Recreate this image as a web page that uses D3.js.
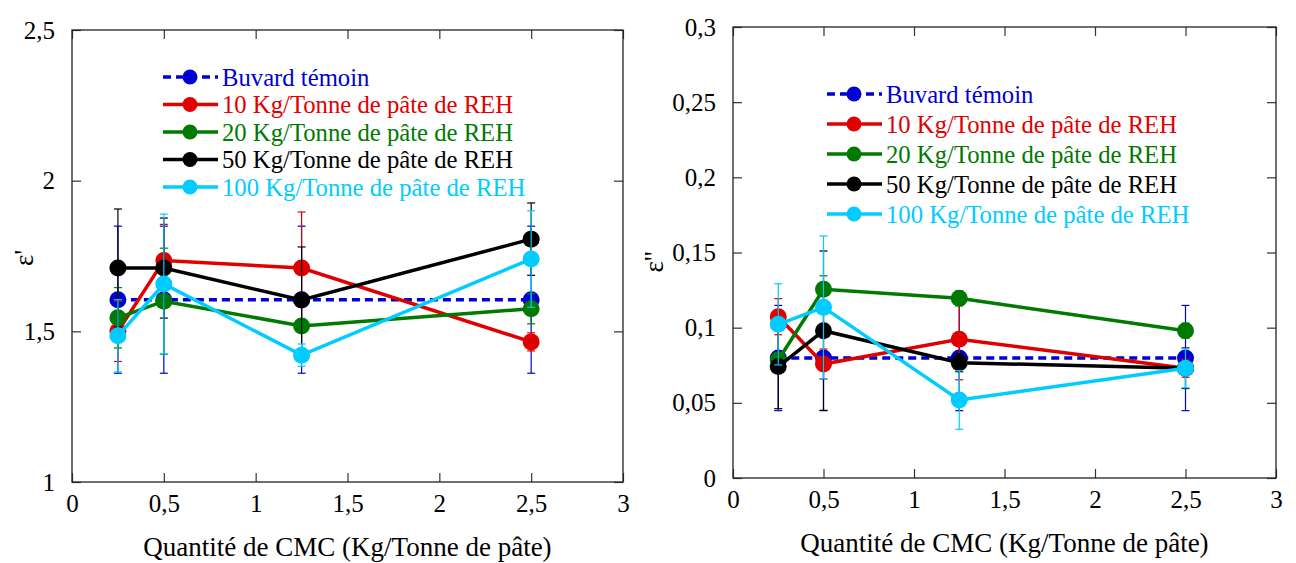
<!DOCTYPE html>
<html>
<head>
<meta charset="utf-8">
<script src="https://cdn.jsdelivr.net/npm/d3@7"></script>
<style>
  body { margin: 0; background: #fff; }
  svg { display: block; }
  svg text { font-family: "Liberation Serif", serif !important; }
  .tick line { stroke: #333; stroke-width: 1.2; }
</style>
</head>
<body>
<div id="chart"></div>
<script>
// Shared x values (CMC quantity) and tick values.
const cmc = [0.25, 0.5, 1.25, 2.5];
const xTicks = [0, 0.5, 1, 1.5, 2, 2.5, 3];

// Series labels.
const seriesNames = [
  "Buvard témoin",
  "10 Kg/Tonne de pâte de REH",
  "20 Kg/Tonne de pâte de REH",
  "50 Kg/Tonne de pâte de REH",
  "100 Kg/Tonne de pâte de REH"
];

// Left panel - epsilon' (values and error half-widths).
const epsPrimeTicks = [1, 1.5, 2, 2.5];
const epsPrimeTemoin = [1.605, 1.605, 1.605, 1.605];
const epsPrime10 = [1.50, 1.735, 1.71, 1.465];
const epsPrime20 = [1.545, 1.60, 1.518, 1.575];
const epsPrime50 = [1.71, 1.71, 1.604, 1.806];
const epsPrime100 = [1.485, 1.657, 1.421, 1.74];
const epsPrimeErrTemoin = [0.244, 0.244, 0.244, 0.244];
const epsPrimeErr10 = [0.1, 0.12, 0.186, 0.03];
const epsPrimeErr20 = [0.1, 0.176, 0.1, 0.05];
const epsPrimeErr50 = [0.196, 0.166, 0.176, 0.12];
const epsPrimeErr100 = [0.12, 0.232, 0.037, 0.16];

// Right panel - epsilon''.
const epsSecondTicks = [0, 0.05, 0.1, 0.15, 0.2, 0.25, 0.3];
const epsSecondTemoin = [0.0798, 0.0798, 0.0798, 0.0798];
const epsSecond10 = [0.1073, 0.0758, 0.0923, 0.073];
const epsSecond20 = [0.0785, 0.1255, 0.1195, 0.098];
const epsSecond50 = [0.0741, 0.098, 0.0767, 0.073];
const epsSecond100 = [0.1022, 0.1135, 0.0519, 0.073];
const epsSecondErrTemoin = [0.035, 0.035, 0.035, 0.035];
const epsSecondErr10 = [0.012, 0.01, 0.027, 0.006];
const epsSecondErr20 = [0.005, 0.009, 0.005, 0.005];
const epsSecondErr50 = [0.028, 0.053, 0.006, 0.0135];
const epsSecondErr100 = [0.027, 0.0475, 0.0195, 0.013];

// Styles.
const colors = ["#0000d2", "#e00000", "#007a00", "#000000", "#00ccff"];
const dashes = ["8,5", null, null, null, null];
const serif = "Liberation Serif";

const fr = d3.formatLocale({ decimal: ",", thousands: " ", grouping: [3], currency: ["", ""] });
const fmt = fr.format("~g");

const svg = d3.select("#chart").append("svg")
  .attr("width", 1296)
  .attr("height", 563)
  .attr("font-family", serif);

function styleAxis(sel) {
  sel.attr("font-family", serif).attr("font-size", 25);
  sel.selectAll(".domain").remove();
  sel.selectAll(".tick text")
    .attr("fill", "#000")
    .style("font-family", serif);
}

function drawPanel(opt) {
  const x = d3.scaleLinear().domain([0, 3]).range([opt.left, opt.right]);
  const y = d3.scaleLinear().domain(opt.yDomain).range([opt.bottom, opt.top]);
  const g = svg.append("g");

  // Axes (ticks point inward), mirrored on top and right.
  g.append("g")
    .attr("transform", `translate(0,${opt.bottom})`)
    .call(d3.axisBottom(x).tickValues(xTicks).tickSize(-9).tickPadding(12).tickFormat(fmt))
    .call(styleAxis);
  g.append("g")
    .attr("transform", `translate(0,${opt.top})`)
    .call(d3.axisTop(x).tickValues(xTicks).tickSize(-9).tickFormat(""))
    .call(styleAxis);
  g.append("g")
    .attr("transform", `translate(${opt.left},0)`)
    .call(d3.axisLeft(y).tickValues(opt.yTicks).tickSize(-9).tickPadding(17).tickFormat(fmt))
    .call(styleAxis);
  g.append("g")
    .attr("transform", `translate(${opt.right},0)`)
    .call(d3.axisRight(y).tickValues(opt.yTicks).tickSize(-9).tickFormat(""))
    .call(styleAxis);

  g.append("rect")
    .attr("x", opt.left)
    .attr("y", opt.top)
    .attr("width", opt.right - opt.left)
    .attr("height", opt.bottom - opt.top)
    .attr("fill", "none")
    .attr("stroke", "#222")
    .attr("stroke-width", 1.3);

  // Axis titles.
  g.append("text")
    .attr("x", (opt.left + opt.right) / 2)
    .attr("y", opt.bottom + 65)
    .attr("dy", "0.35em")
    .attr("text-anchor", "middle")
    .attr("font-size", 27)
    .text("Quantité de CMC (Kg/Tonne de pâte)");
  g.append("text")
    .attr("transform", `translate(${opt.yTitleX},${opt.yTitleY})rotate(-90)`)
    .attr("dy", "0.35em")
    .attr("text-anchor", "middle")
    .attr("font-size", 27)
    .text(opt.yTitle);

  // Series: error bars, line, markers.
  opt.series.forEach((vals, i) => {
    const err = opt.errors[i];
    const pts = cmc.map((c, k) => ({ x: c, y: vals[k], e: err[k] }));
    const sg = g.append("g");

    const eb = sg.selectAll(".eb").data(pts).enter().append("g")
      .attr("stroke", colors[i])
      .attr("stroke-width", 1.2);
    eb.append("line")
      .attr("x1", (d) => x(d.x)).attr("x2", (d) => x(d.x))
      .attr("y1", (d) => y(d.y - d.e)).attr("y2", (d) => y(d.y + d.e));
    eb.append("line")
      .attr("x1", (d) => x(d.x) - 4).attr("x2", (d) => x(d.x) + 4)
      .attr("y1", (d) => y(d.y + d.e)).attr("y2", (d) => y(d.y + d.e));
    eb.append("line")
      .attr("x1", (d) => x(d.x) - 4).attr("x2", (d) => x(d.x) + 4)
      .attr("y1", (d) => y(d.y - d.e)).attr("y2", (d) => y(d.y - d.e));

    sg.append("path")
      .datum(pts)
      .attr("fill", "none")
      .attr("stroke", colors[i])
      .attr("stroke-width", 3.5)
      .attr("stroke-dasharray", dashes[i])
      .attr("d", d3.line().x((d) => x(d.x)).y((d) => y(d.y)));

    sg.selectAll("circle").data(pts).enter().append("circle")
      .attr("cx", (d) => x(d.x))
      .attr("cy", (d) => y(d.y))
      .attr("r", 8.5)
      .attr("fill", colors[i]);
  });

  // Legend.
  const lg = g.append("g");
  seriesNames.forEach((name, i) => {
    const ly = opt.legY + i * opt.legStep;
    lg.append("line")
      .attr("x1", opt.legX).attr("x2", opt.legX + 55)
      .attr("y1", ly).attr("y2", ly)
      .attr("stroke", colors[i])
      .attr("stroke-width", 3.5)
      .attr("stroke-dasharray", dashes[i]);
    lg.append("circle")
      .attr("cx", opt.legX + 27).attr("cy", ly)
      .attr("r", 7.5)
      .attr("fill", colors[i]);
    lg.append("text")
      .attr("x", opt.legX + 59).attr("y", ly)
      .attr("dy", "0.35em")
      .attr("font-size", 24.7)
      .attr("fill", colors[i])
      .text(name);
  });
}

drawPanel({
  left: 72, right: 623, top: 30, bottom: 482,
  yDomain: [1, 2.5], yTicks: epsPrimeTicks,
  yTitle: "ε'", yTitleX: 24, yTitleY: 258,
  series: [epsPrimeTemoin, epsPrime10, epsPrime20, epsPrime50, epsPrime100],
  errors: [epsPrimeErrTemoin, epsPrimeErr10, epsPrimeErr20, epsPrimeErr50, epsPrimeErr100],
  legX: 163, legY: 77, legStep: 27.5
});

drawPanel({
  left: 733, right: 1276, top: 27, bottom: 478,
  yDomain: [0, 0.3], yTicks: epsSecondTicks,
  yTitle: "ε''", yTitleX: 654, yTitleY: 262,
  series: [epsSecondTemoin, epsSecond10, epsSecond20, epsSecond50, epsSecond100],
  errors: [epsSecondErrTemoin, epsSecondErr10, epsSecondErr20, epsSecondErr50, epsSecondErr100],
  legX: 827, legY: 94, legStep: 30
});
</script>
</body>
</html>
